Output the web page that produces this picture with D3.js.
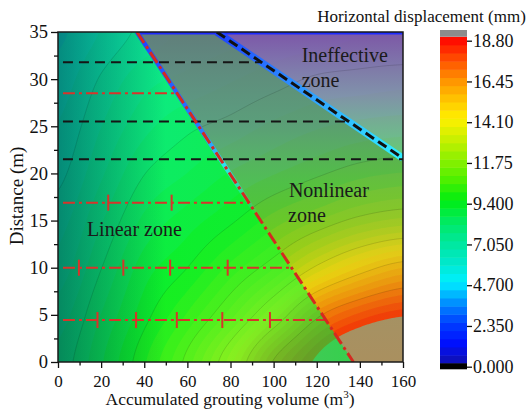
<!DOCTYPE html>
<html>
<head>
<meta charset="utf-8">
<script src="https://cdn.jsdelivr.net/npm/d3@7"></script>
<style>
    body { margin: 0; background: #fff; }
    svg text { font-family: "Liberation Serif", "Times New Roman", serif; }
</style>
</head>
<body>
<svg id="chart" width="527" height="410"></svg>
<script>
// horizontal displacement (mm), rows = distance, cols = volume
const volumes = [0, 20, 40, 60, 80, 100, 120, 140, 160]
const distances = [0, 5, 10, 15, 20, 25, 30, 35]
const displacement = [
    [7.2, 8.4, 9.8, 11.5, 13.9, 17.0, 19.0, 20.6, 21.6],
    [6.8, 8.0, 9.2, 10.4, 12.0, 14.2, 16.7, 18.0, 18.7],
    [6.3, 7.5, 8.7, 9.4, 10.5, 11.7, 13.3, 14.6, 15.5],
    [5.9, 7.0, 8.1, 8.7, 9.3, 10.1, 10.8, 11.5, 11.9],
    [5.5, 6.5, 7.5, 8.0, 8.5, 8.9, 9.3, 9.7, 9.9],
    [5.2, 6.1, 6.9, 7.4, 7.7, 8.1, 8.4, 8.6, 8.7],
    [4.9, 5.7, 6.4, 6.7, 7.0, 7.3, 7.6, 7.7, 7.8],
    [4.6, 5.2, 5.8, 6.2, 6.4, 6.7, 6.8, 7.0, 7.0]
]

const colorTicks = [0, 2.35, 4.7, 7.05, 9.4, 11.75, 14.1, 16.45, 18.8]
const colorTickLabels = ["0.000", "2.350", "4.700", "7.050", "9.400", "11.75", "14.10", "16.45", "18.80"]
const levelCount = 40
const lineLevels = [1.88, 3.76, 5.64, 7.52, 9.4, 11.28, 13.16, 15.04, 16.92]

const cmapValues = [0, 1.2, 2.35, 3.5, 4.7, 5.9, 7.05, 8.2, 9.4, 10.6, 11.75, 12.9, 14.1, 15.3, 16.45, 17.6, 18.8]
const cmapColors = ["#1010b0", "#0010ff", "#0040ff", "#0090ff", "#00f0ff", "#00e8c8", "#00e898", "#00ea60",
    "#00ee10", "#50f000", "#8cf000", "#c8f000", "#fff000", "#ffc000", "#ff8c00", "#ff4800", "#ff0000"]
const aboveColor = "#8c8c8c"
const belowColor = "#000000"

// zone boundaries as [volume, distance]
const linearBoundary = [[36.6, 35], [137, 0]]
const ineffectiveBoundary = [[73.6, 35], [160, 21.6]]

const blackDashLevels = [31.8, 25.5, 21.5]
const redDashLevels = [28.5, 16.9, 10.0, 4.45]
const redTickPoints = [[], [23.3, 52.7], [9.7, 30.3, 52.0, 78.7], [18.3, 36.2, 55.1, 76.2, 98.3]]

const xTicks = [0, 20, 40, 60, 80, 100, 120, 140, 160]
const xMinorTicks = [10, 30, 50, 70, 90, 110, 130, 150]
const yTicks = [0, 5, 10, 15, 20, 25, 30, 35]
const yMinorTicks = [2.5, 7.5, 12.5, 17.5, 22.5, 27.5, 32.5]

const svg = d3.select("#chart")
const defs = svg.append("defs")

const x = d3.scaleLinear().domain([0, 160]).range([58, 403])
const y = d3.scaleLinear().domain([0, 35]).range([362, 32])

const cmap = d3.scaleLinear().domain(cmapValues).range(cmapColors).interpolate(d3.interpolateRgb).clamp(true)

// smooth resampling of the read grid for drawing the filled contours
const cubic = (p0, p1, p2, p3, t) =>
    p1 + 0.5 * t * (p2 - p0 + t * (2 * p0 - 5 * p1 + 4 * p2 - p3 + t * (3 * (p1 - p2) + p3 - p0)))

const cell = (arr, v) => {
    const i = Math.max(0, Math.min(arr.length - 2, d3.bisectRight(arr, v) - 1))
    return [i, (v - arr[i]) / (arr[i + 1] - arr[i])]
}

const sampleField = (v, d) => {
    const [i, tx] = cell(volumes, v)
    const [j, ty] = cell(distances, d)
    const ci = (k) => Math.max(0, Math.min(volumes.length - 1, k))
    const cj = (k) => Math.max(0, Math.min(distances.length - 1, k))
    const rows = [-1, 0, 1, 2].map((o) => {
        const row = displacement[cj(j + o)]
        return cubic(row[ci(i - 1)], row[ci(i)], row[ci(i + 1)], row[ci(i + 2)], tx)
    })
    return cubic(rows[0], rows[1], rows[2], rows[3], ty)
}

const nx = 161
const ny = 141
const stepX = 160 / (nx - 1)
const stepY = 35 / (ny - 1)
const grid = new Array(nx * ny)
for (let r = 0; r < ny; r++) {
    for (let c = 0; c < nx; c++) {
        grid[r * nx + c] = sampleField(c * stepX, r * stepY)
    }
}

const levelStep = 18.8 / levelCount
const thresholds = d3.range(levelCount + 1).map((k) => k * levelStep)
const contours = d3.contours().size([nx, ny]).thresholds(thresholds)(grid)

const gridPath = d3.geoPath(d3.geoTransform({
    point(px, py) {
        this.stream.point(x((px - 0.5) * stepX), y((py - 0.5) * stepY))
    }
}))

const zoneLine = d3.line().x((p) => x(p[0])).y((p) => y(p[1]))
const linearZone = [[0, 0], [0, 35], linearBoundary[0], linearBoundary[1]]
const nonlinearZone = [linearBoundary[0], ineffectiveBoundary[0], ineffectiveBoundary[1], [160, 0], linearBoundary[1]]
const ineffectiveZone = [ineffectiveBoundary[0], [160, 35], ineffectiveBoundary[1]]

defs.append("clipPath").attr("id", "plotClip")
    .append("rect")
    .attr("x", x(0)).attr("y", y(35))
    .attr("width", x(160) - x(0)).attr("height", y(0) - y(35))
defs.append("clipPath").attr("id", "linearClip")
    .append("path").attr("d", zoneLine(linearZone) + "Z")

const gradient = (id, x1, y1, x2, y2, stops) => {
    const grad = defs.append("linearGradient").attr("id", id)
        .attr("gradientUnits", "userSpaceOnUse")
        .attr("x1", x1).attr("y1", y1).attr("x2", x2).attr("y2", y2)
    stops.forEach((s) => grad.append("stop")
        .attr("offset", s[0]).attr("stop-color", s[1]).attr("stop-opacity", s[2]))
}

gradient("linearGrad", x(0), 0, x(130), 0, [
    [0, "#20f040", 0.28], [0.45, "#20f040", 0.42], [1, "#18e838", 0.72]
])
gradient("nonlinGrad", 0, y(35), 0, y(0), [
    [0, "#687676", 0.93], [10 / 35, "#748a7c", 0.78], [16 / 35, "#909a68", 0.55],
    [25 / 35, "#c0a030", 0.38], [1, "#e89800", 0.32]
])
gradient("ineffGrad", 0, y(35), 0, y(21.6), [
    [0, "#8a46a8", 0.9], [0.5, "#a07cb8", 0.8], [1, "#a8b4b0", 0.6]
])
gradient("shadeGrad", x(0), 0, x(50), 0, [
    [0, "#00283c", 0.5], [1, "#00283c", 0]
])
gradient("redUnder", x(linearBoundary[0][0]), y(linearBoundary[0][1]), x(linearBoundary[1][0]), y(linearBoundary[1][1]), [
    [0, "#2040ff", 1], [0.3, "#2a80ff", 1], [0.4, "#30e0f0", 1], [0.5, "#30e0f0", 0.3], [0.56, "#30e0f0", 0]
])
gradient("ineffUnder", x(ineffectiveBoundary[0][0]), y(ineffectiveBoundary[0][1]), x(ineffectiveBoundary[1][0]), y(ineffectiveBoundary[1][1]), [
    [0, "#1e40ff", 1], [0.5, "#30a0ff", 1], [1, "#30f0ff", 1]
])

// filled contour map
const plot = svg.append("g").attr("clip-path", "url(#plotClip)")

plot.append("g")
    .selectAll("path")
    .data(contours)
    .join("path")
    .attr("d", gridPath)
    .attr("fill", (c, i) => (i === levelCount ? aboveColor : cmap(c.value + levelStep / 2)))

plot.append("path")
    .attr("d", zoneLine(linearZone) + "Z")
    .attr("fill", "url(#linearGrad)")

plot.append("rect")
    .attr("clip-path", "url(#linearClip)")
    .attr("x", x(0)).attr("y", y(35))
    .attr("width", x(160) - x(0)).attr("height", y(0) - y(35))
    .attr("fill", "url(#shadeGrad)")

plot.append("path")
    .attr("d", zoneLine(nonlinearZone) + "Z")
    .attr("fill", "url(#nonlinGrad)")

plot.append("path")
    .attr("d", zoneLine(ineffectiveZone) + "Z")
    .attr("fill", "url(#ineffGrad)")

const isolines = d3.contours().size([nx, ny]).thresholds(lineLevels)(grid)
plot.append("g")
    .selectAll("path")
    .data(isolines)
    .join("path")
    .attr("d", gridPath)
    .attr("fill", "none")
    .attr("stroke", "#000")
    .attr("stroke-opacity", 0.18)
    .attr("stroke-width", 0.7)

// zone boundaries
plot.append("line")
    .attr("x1", x(linearBoundary[0][0])).attr("x2", x(160))
    .attr("y1", y(35) + 1).attr("y2", y(35) + 1)
    .attr("stroke", "#1e2cff").attr("stroke-width", 3)

plot.append("path")
    .attr("d", zoneLine(linearBoundary))
    .attr("stroke", "url(#redUnder)").attr("stroke-width", 4.5).attr("fill", "none")

plot.append("path")
    .attr("d", zoneLine(ineffectiveBoundary))
    .attr("stroke", "url(#ineffUnder)").attr("stroke-width", 7).attr("fill", "none")

const boundaryX = (line, d) => {
    const [[v0, d0], [v1, d1]] = line
    return v0 + (d - d0) / (d1 - d0) * (v1 - v0)
}

plot.append("g")
    .selectAll("line")
    .data(blackDashLevels)
    .join("line")
    .attr("x1", x(2.3))
    .attr("x2", (d) => x(d > ineffectiveBoundary[1][1] ? boundaryX(ineffectiveBoundary, d) : 160))
    .attr("y1", (d) => y(d)).attr("y2", (d) => y(d))
    .attr("stroke", "#151515").attr("stroke-width", 2).attr("stroke-dasharray", "10,6")

plot.append("path")
    .attr("d", zoneLine(ineffectiveBoundary))
    .attr("stroke", "#111").attr("stroke-width", 3).attr("stroke-dasharray", "10,5").attr("fill", "none")

plot.append("g")
    .selectAll("line")
    .data(redDashLevels)
    .join("line")
    .attr("x1", x(2.3))
    .attr("x2", (d) => x(boundaryX(linearBoundary, d)))
    .attr("y1", (d) => y(d)).attr("y2", (d) => y(d))
    .attr("stroke", "#d8342a").attr("stroke-width", 2).attr("stroke-dasharray", "12,4,3,4")

const tickData = redDashLevels.flatMap((d, i) => redTickPoints[i].map((v) => [v, d]))
plot.append("g")
    .selectAll("line")
    .data(tickData)
    .join("line")
    .attr("x1", (p) => x(p[0])).attr("x2", (p) => x(p[0]))
    .attr("y1", (p) => y(p[1]) - 8).attr("y2", (p) => y(p[1]) + 8)
    .attr("stroke", "#d8342a").attr("stroke-width", 2)

plot.append("path")
    .attr("d", zoneLine(linearBoundary))
    .attr("stroke", "#d42a20").attr("stroke-width", 3).attr("stroke-dasharray", "13,4,3,4").attr("fill", "none")

// zone labels
const labels = [
    { text: "Linear zone", v: 13.4, d: 13.4 },
    { text: "Nonlinear", v: 107.1, d: 17.5 },
    { text: "zone", v: 106.7, d: 14.9 },
    { text: "Ineffective", v: 113, d: 31.8 },
    { text: "zone", v: 113, d: 29.2 }
]
svg.append("g")
    .selectAll("text")
    .data(labels)
    .join("text")
    .attr("x", (l) => x(l.v))
    .attr("y", (l) => y(l.d))
    .attr("font-size", 20)
    .attr("fill", "#1a1a1a")
    .text((l) => l.text)

// frame and axes
svg.append("rect")
    .attr("x", x(0)).attr("y", y(35))
    .attr("width", x(160) - x(0)).attr("height", y(0) - y(35))
    .attr("fill", "none").attr("stroke", "#1a1a1a").attr("stroke-width", 1.5)

const styleAxis = (g, size) => {
    g.attr("font-family", null).attr("font-size", size).attr("color", "#111")
    g.select(".domain").remove()
    g.selectAll("line").attr("stroke-width", 1.3)
}

svg.append("g")
    .attr("transform", `translate(0,${y(0)})`)
    .call(d3.axisBottom(x).tickValues(xTicks).tickSize(6).tickSizeOuter(0).tickPadding(6.5))
    .call(styleAxis, 17)
svg.append("g")
    .attr("transform", `translate(0,${y(0)})`)
    .call(d3.axisBottom(x).tickValues(xMinorTicks).tickSize(3.5).tickSizeOuter(0).tickFormat(""))
    .call(styleAxis, 17)
svg.append("g")
    .attr("transform", `translate(${x(0)},0)`)
    .call(d3.axisLeft(y).tickValues(yTicks).tickSize(7).tickSizeOuter(0).tickPadding(3))
    .call(styleAxis, 18.5)
svg.append("g")
    .attr("transform", `translate(${x(0)},0)`)
    .call(d3.axisLeft(y).tickValues(yMinorTicks).tickSize(4).tickSizeOuter(0).tickFormat(""))
    .call(styleAxis, 18.5)

const xTitle = svg.append("text")
    .attr("x", 230).attr("y", 405)
    .attr("text-anchor", "middle").attr("font-size", 17.5).attr("fill", "#111")
xTitle.append("tspan").text("Accumulated grouting volume (m")
xTitle.append("tspan").attr("dy", -7).attr("font-size", 11).text("3")
xTitle.append("tspan").attr("dy", 7).text(")")

svg.append("text")
    .attr("transform", "translate(23,196) rotate(-90)")
    .attr("text-anchor", "middle").attr("font-size", 19).attr("fill", "#111")
    .text("Distance (m)")

// colour bar
const cbX = 440
const cbWidth = 27
const cbBand = d3.scaleLinear().domain([0, 18.8]).range([363.3, 36.7])
const cbAxis = d3.scaleLinear().domain([0, 18.8]).range([366.7, 40.7])

const bar = svg.append("g")
bar.selectAll("rect")
    .data(d3.range(levelCount))
    .join("rect")
    .attr("x", cbX).attr("width", cbWidth)
    .attr("y", (k) => cbBand((k + 1) * levelStep))
    .attr("height", (k) => cbBand(k * levelStep) - cbBand((k + 1) * levelStep) + 0.5)
    .attr("fill", (k) => cmap((k + 0.5) * levelStep))
bar.append("rect")
    .attr("x", cbX).attr("width", cbWidth)
    .attr("y", 30).attr("height", cbBand(18.8) - 30)
    .attr("fill", aboveColor)
bar.append("rect")
    .attr("x", cbX).attr("width", cbWidth)
    .attr("y", cbBand(0)).attr("height", 6)
    .attr("fill", belowColor)

svg.append("g")
    .attr("transform", `translate(${cbX + cbWidth},0)`)
    .call(d3.axisRight(cbAxis).tickValues(colorTicks).tickSize(5).tickSizeOuter(0).tickPadding(1)
        .tickFormat((d, i) => colorTickLabels[i]))
    .call(styleAxis, 18)

svg.append("text")
    .attr("x", 421.5).attr("y", 21.5)
    .attr("text-anchor", "middle").attr("font-size", 17).attr("fill", "#111")
    .text("Horizontal displacement (mm)")
</script>
</body>
</html>
